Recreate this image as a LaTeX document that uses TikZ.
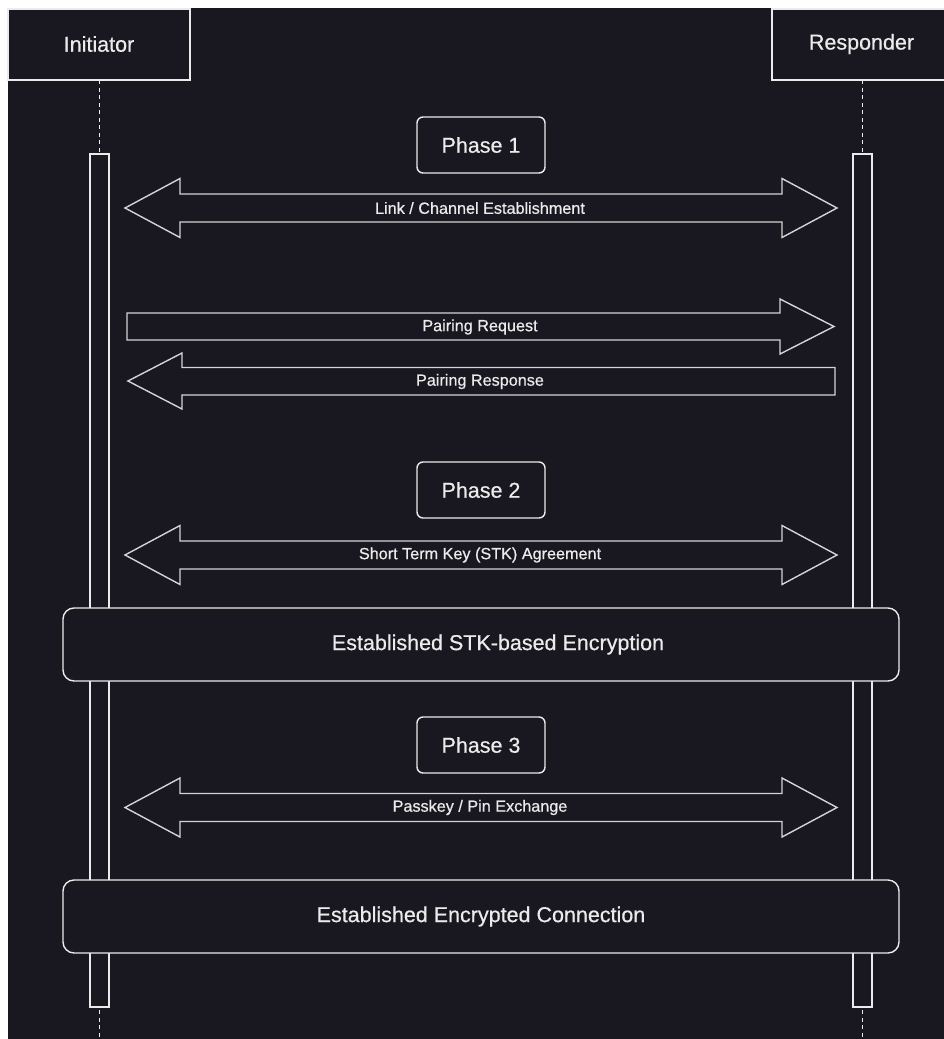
\documentclass[tikz,border=0pt]{standalone}
\usepackage{fontspec}
\setmainfont{Liberation Sans}[UprightFeatures={FakeBold=0.6}]
\definecolor{canvas}{HTML}{19171F}
\definecolor{ink}{HTML}{EBEBEB}
\definecolor{edge}{HTML}{D4D4D4}
\tikzset{
  every node/.style={text=ink, font=\fontsize{21.5}{24}\selectfont},
  header/.style={draw=ink, line width=1.4pt, fill=canvas},
  phasebox/.style={draw=ink, line width=1.4pt, fill=canvas, rounded corners=6pt},
  bandbox/.style={draw=ink, line width=1.4pt, fill=canvas, rounded corners=11pt},
  lifeline/.style={draw=ink, line width=1.3pt, dash pattern=on 4pt off 3.5pt},
  actbar/.style={draw=ink, line width=1.3pt, fill=canvas},
  blockarrow/.style={draw=edge, line width=1.4pt, line join=miter},
  msg/.style={font=\fontsize{16.2}{18}\selectfont},
}
% two-headed block arrow between the lifelines: #1 centre y, #2 node name, #3 text
\newcommand{\twowayarrow}[3]{%
  \draw[blockarrow] (125,#1) -- (180,#1-29.5) -- (180,#1-14) -- (782,#1-14)
    -- (782,#1-29.5) -- (837,#1) -- (782,#1+29.5) -- (782,#1+14)
    -- (180,#1+14) -- (180,#1+29.5) -- cycle;
  \node[msg] (#2) at (480,#1) {#3};}
\begin{document}
\begin{tikzpicture}[x=1pt,y=-1pt]
  \useasboundingbox (0,0) rectangle (944,1039);
  \fill[white] (0,0) rectangle (944,1039);
  \fill[canvas] (8,8) rectangle (944,1039);

  % lifelines
  \coordinate (iTop) at (99.5,80);
  \coordinate (iBot) at (99.5,1039);
  \coordinate (rTop) at (862.5,80);
  \coordinate (rBot) at (862.5,1039);
  \draw[lifeline] (iTop) -- (iBot);
  \draw[lifeline] (rTop) -- (rBot);
  \draw[actbar] (90,154) rectangle (109,1007);
  \draw[actbar] (853,154) rectangle (872,1007);

  % participants
  \begin{scope}
    \clip (0,0) rectangle (944,1039);
    \draw[header] (8,9) rectangle (190,80);
    \draw[header] (772,9) rectangle (950,80);
  \end{scope}
  \node (initiator) at (99,44) {Initiator};
  \node (responder) at (861.5,44) {Responder};

  % phase 1
  \draw[phasebox] (417,117) rectangle (545,173);
  \node (phase1) at (481,145) {Phase 1};
  \twowayarrow{208}{link}{Link / Channel Establishment}

  % pairing request (to the responder)
  \draw[blockarrow] (127,313) -- (780,313) -- (780,299) -- (834,326.5)
    -- (780,354) -- (780,340) -- (127,340) -- cycle;
  \node[msg] (req) at (480,327) {Pairing Request};

  % pairing response (to the initiator)
  \draw[blockarrow] (835,367.5) -- (182,367.5) -- (182,353) -- (128,381)
    -- (182,409) -- (182,395) -- (835,395) -- cycle;
  \node[msg] (resp) at (480,381.5) {Pairing Response};

  % phase 2
  \draw[phasebox] (417,462) rectangle (545,518);
  \node (phase2) at (481,490) {Phase 2};
  \twowayarrow{555}{stk}{Short Term Key (STK) Agreement}

  \draw[bandbox] (63,608) rectangle (899,681);
  \node (stkenc) at (498,644.5) {Established STK-based Encryption};

  % phase 3
  \draw[phasebox] (417,717) rectangle (545,773);
  \node (phase3) at (481,745) {Phase 3};
  \twowayarrow{807.5}{pin}{Passkey / Pin Exchange}

  \draw[bandbox] (63,880) rectangle (899,953);
  \node (encconn) at (481,916.5) {Established Encrypted Connection};
\end{tikzpicture}
\end{document}
